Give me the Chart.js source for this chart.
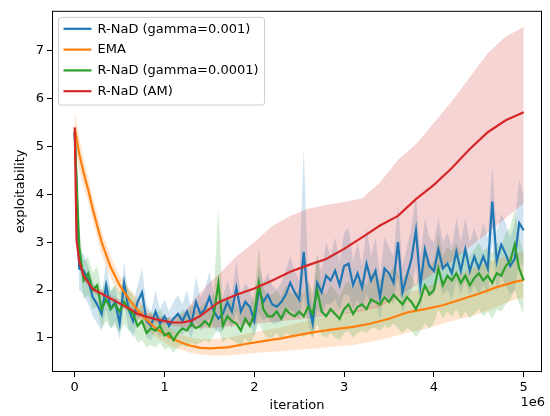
<!DOCTYPE html>
<html>
<head>
<meta charset="utf-8">
<script src="https://cdn.jsdelivr.net/npm/chart.js@4.4.1/dist/chart.umd.min.js"></script>
<style>
  html, body { margin: 0; padding: 0; background: #fff; }
  #wrap { width: 550px; height: 416px; }
</style>
</head>
<body>
<div id="wrap"><canvas id="chart" width="550" height="416"></canvas></div>
<script>
// ── Data (iterations in millions) ──────────────────────────
const xTicks = [0, 1, 2, 3, 4, 5];
const yTicks = [1, 2, 3, 4, 5, 6, 7];
const LOG_STEP = 0.05; // R-NaD runs are logged every 50k iterations

// R-NaD (gamma=0.001)
const blueMean = [
  5.3, 2.45, 2.4, 2.2, 1.85, 1.7, 1.5, 2.1, 1.6, 1.75,
  1.3, 2.15, 1.6, 1.35, 1.75, 1.95, 1.35, 1.25, 1.55, 1.3,
  1.45, 1.25, 1.4, 1.5, 1.35, 1.55, 1.3, 1.75, 1.5, 1.6,
  1.85, 1.55, 1.4, 1.5, 1.75, 1.55, 2.05, 1.55, 1.75, 1.65,
  1.35, 2.0, 1.75, 1.9, 1.7, 1.65, 1.75, 1.9, 2.15, 1.95,
  1.8, 2.8, 1.75, 1.3, 2.15, 1.95, 2.3, 2.2, 2.4, 2.1,
  2.5, 2.55, 2.1, 2.35, 2.05, 2.55, 2.2, 2.4, 1.85, 2.45,
  2.35, 2.15, 3.0, 1.95, 2.3, 2.65, 3.25, 2.1, 2.85, 2.5,
  2.4, 2.85, 2.45, 2.55, 2.35, 2.8, 2.4, 2.85, 2.4, 2.7,
  2.45, 2.7, 2.45, 3.85, 2.6, 2.95, 2.75, 2.5, 2.65, 3.4,
  3.25
];
const blueUpper = [
  5.5, 2.8, 2.75, 2.5, 2.2, 2.0, 1.85, 2.6, 1.95, 2.1,
  1.6, 2.6, 1.9, 1.7, 2.1, 2.45, 1.7, 1.55, 2.0, 1.6,
  1.8, 1.55, 1.75, 1.9, 1.7, 2.0, 1.6, 2.3, 1.85, 2.0,
  2.4, 1.9, 1.75, 1.85, 2.2, 1.9, 2.6, 1.9, 2.15, 2.0,
  1.7, 2.5, 2.15, 2.35, 2.1, 2.0, 2.15, 2.4, 2.7, 2.4,
  2.2, 5.0, 2.2, 1.7, 2.7, 2.4, 3.0, 2.7, 3.1, 2.6,
  3.2, 3.3, 2.6, 3.0, 2.5, 3.3, 2.7, 3.1, 2.3, 3.1,
  2.9, 2.7, 3.8, 2.5, 2.9, 3.3, 4.0, 2.7, 3.5, 3.1,
  3.0, 3.5, 3.0, 3.2, 2.9, 3.5, 3.0, 3.5, 3.0, 3.3,
  3.0, 3.4, 3.1, 4.6, 3.2, 3.6, 3.4, 3.1, 3.4, 4.3,
  4.0
];
const blueLower = [
  5.1, 2.0, 1.9, 1.7, 1.45, 1.3, 1.15, 1.6, 1.2, 1.35,
  0.95, 1.7, 1.2, 1.0, 1.35, 1.5, 1.0, 0.95, 1.15, 1.0,
  1.1, 0.95, 1.05, 1.15, 1.05, 1.2, 1.0, 1.35, 1.15, 1.25,
  1.4, 1.2, 1.1, 1.15, 1.35, 1.2, 1.55, 1.2, 1.35, 1.3,
  1.05, 1.5, 1.35, 1.45, 1.3, 1.3, 1.35, 1.45, 1.6, 1.5,
  1.4, 1.9, 1.3, 1.0, 1.6, 1.5, 1.7, 1.7, 1.8, 1.6,
  1.9, 1.9, 1.6, 1.8, 1.6, 1.9, 1.7, 1.8, 1.4, 1.9,
  1.8, 1.7, 2.3, 1.5, 1.8, 2.0, 2.5, 1.6, 2.2, 1.9,
  1.9, 2.2, 1.9, 2.0, 1.8, 2.2, 1.9, 2.2, 1.9, 2.1,
  1.9, 2.1, 1.9, 3.0, 2.0, 2.3, 2.1, 1.9, 2.0, 2.6,
  2.5
];

// R-NaD (gamma=0.0001)
const greenMean = [
  5.3, 2.9, 2.2, 2.35, 2.0, 2.1, 1.6, 1.8, 1.6, 1.7,
  1.55, 1.75, 1.6, 1.5, 1.25, 1.35, 1.1, 1.2, 1.15, 1.25,
  1.05, 1.1, 0.95, 1.1, 1.2, 1.15, 1.3, 1.2, 1.25, 1.35,
  1.25, 1.5, 2.15, 1.25, 1.45, 1.35, 1.3, 1.15, 1.4, 1.25,
  1.5, 2.15, 1.6, 1.45, 1.45, 1.55, 1.4, 1.6, 1.5, 1.45,
  1.55, 1.45, 1.65, 1.5, 2.0, 1.55, 1.45, 1.6, 1.5, 1.4,
  1.6, 1.7, 1.5, 1.65, 1.7, 1.6, 1.8, 1.75, 1.7, 1.85,
  1.75, 1.9, 1.8, 1.7, 1.85, 1.75, 1.6, 1.8, 2.1, 1.9,
  2.0, 2.45, 2.1, 2.3, 2.2, 2.35, 2.15, 2.3, 2.1, 2.25,
  2.35, 2.2, 2.3, 2.15, 2.35, 2.3, 2.5, 2.6, 2.95, 2.45,
  2.2
];
const greenUpper = [
  5.5, 3.3, 2.6, 2.7, 2.35, 2.5, 2.0, 2.2, 2.0, 2.1,
  1.95, 2.2, 2.0, 1.9, 1.6, 1.7, 1.45, 1.55, 1.5, 1.6,
  1.4, 1.45, 1.3, 1.45, 1.6, 1.5, 1.7, 1.55, 1.65, 1.75,
  1.6, 2.0, 3.7, 1.7, 1.9, 1.8, 1.7, 1.5, 1.85, 1.65,
  1.95, 2.9, 2.05, 1.9, 1.9, 2.0, 1.85, 2.1, 1.95, 1.9,
  2.0, 1.9, 2.2, 1.95, 2.8, 2.0, 1.9, 2.1, 2.0, 1.85,
  2.1, 2.2, 2.0, 2.2, 2.2, 2.1, 2.35, 2.3, 2.2, 2.4,
  2.3, 2.5, 2.35, 2.2, 2.4, 2.3, 2.1, 2.4, 2.8, 2.5,
  2.6, 3.2, 2.7, 2.9, 2.8, 3.0, 2.75, 2.9, 2.7, 2.85,
  3.0, 2.8, 2.9, 2.75, 3.0, 2.9, 3.2, 3.3, 3.7, 3.1,
  2.8
];
const greenLower = [
  5.1, 2.5, 1.8, 1.9, 1.6, 1.65, 1.2, 1.35, 1.2, 1.25,
  1.1, 1.3, 1.15, 1.1, 0.9, 0.95, 0.8, 0.85, 0.8, 0.9,
  0.75, 0.8, 0.7, 0.8, 0.85, 0.8, 0.9, 0.85, 0.9, 0.95,
  0.9, 1.05, 1.2, 0.9, 1.0, 0.95, 0.9, 0.8, 1.0, 0.85,
  1.05, 1.3, 1.1, 1.0, 1.0, 1.1, 0.95, 1.1, 1.05, 1.0,
  1.1, 1.0, 1.1, 1.0, 1.3, 1.05, 1.0, 1.1, 1.0, 0.95,
  1.1, 1.15, 1.0, 1.1, 1.15, 1.1, 1.2, 1.2, 1.15, 1.25,
  1.2, 1.3, 1.2, 1.1, 1.2, 1.15, 1.0, 1.15, 1.3, 1.2,
  1.3, 1.6, 1.4, 1.55, 1.45, 1.6, 1.4, 1.55, 1.4, 1.5,
  1.6, 1.45, 1.55, 1.4, 1.6, 1.55, 1.7, 1.8, 2.0, 1.7,
  1.5
];

// EMA
const orangeX = [0, 0.05, 0.1, 0.15, 0.2, 0.3, 0.4, 0.5, 0.6, 0.7, 0.8, 0.9, 1.0, 1.1, 1.2, 1.3, 1.4, 1.5,
                 1.7, 1.9, 2.1, 2.3, 2.5, 2.7, 2.9, 3.1, 3.3, 3.5, 3.7, 3.9, 4.1, 4.3, 4.5, 4.7, 4.9, 5.0];
const orangeMean = [5.4, 4.85, 4.45, 4.1, 3.7, 3.0, 2.48, 2.1, 1.82, 1.58, 1.38, 1.2, 1.08, 0.97, 0.89, 0.83, 0.79, 0.78,
                    0.8, 0.87, 0.93, 0.99, 1.06, 1.13, 1.18, 1.23, 1.3, 1.4, 1.53, 1.6, 1.68, 1.8, 1.92, 2.06, 2.17, 2.21];
const orangeUpper = [5.75, 5.2, 4.75, 4.35, 3.95, 3.25, 2.7, 2.3, 2.05, 1.82, 1.6, 1.42, 1.28, 1.15, 1.05, 1.0, 0.97, 0.97,
                     1.0, 1.08, 1.15, 1.22, 1.32, 1.4, 1.47, 1.55, 1.65, 1.8, 1.95, 2.05, 2.2, 2.35, 2.5, 2.65, 2.75, 2.8];
const orangeLower = [5.05, 4.5, 4.15, 3.85, 3.45, 2.75, 2.25, 1.9, 1.6, 1.38, 1.18, 1.02, 0.9, 0.8, 0.74, 0.68, 0.65, 0.63,
                     0.63, 0.66, 0.7, 0.72, 0.75, 0.78, 0.82, 0.85, 0.92, 1.0, 1.1, 1.18, 1.3, 1.4, 1.5, 1.65, 1.8, 1.85];

// R-NaD (AM)
const redX = [0, 0.02, 0.05, 0.1, 0.2, 0.3, 0.4, 0.5, 0.6, 0.7, 0.8, 0.9, 1.0, 1.1, 1.2, 1.3, 1.4, 1.5,
              1.6, 1.8, 2.0, 2.2, 2.4, 2.6, 2.8, 3.0, 3.2, 3.4, 3.6, 3.8, 4.0, 4.2, 4.4, 4.6, 4.8, 5.0];
const redMean = [5.4, 3.05, 2.6, 2.3, 2.02, 1.92, 1.82, 1.72, 1.62, 1.5, 1.44, 1.39, 1.35, 1.32, 1.32, 1.36, 1.46, 1.6,
                 1.74, 1.9, 2.03, 2.2, 2.38, 2.52, 2.65, 2.86, 3.1, 3.35, 3.55, 3.9, 4.2, 4.55, 4.95, 5.3, 5.55, 5.72];
const redUpper = [5.45, 3.15, 2.7, 2.4, 2.1, 2.0, 1.9, 1.8, 1.7, 1.58, 1.52, 1.46, 1.43, 1.42, 1.5, 1.72, 1.95, 2.15,
                  2.32, 2.7, 3.0, 3.34, 3.55, 3.7, 3.78, 3.84, 3.92, 4.25, 4.72, 5.05, 5.5, 5.95, 6.45, 6.95, 7.3, 7.5];
const redLower = [5.3, 2.95, 2.5, 2.2, 1.95, 1.85, 1.75, 1.65, 1.55, 1.43, 1.37, 1.32, 1.28, 1.25, 1.22, 1.2, 1.2, 1.2,
                  1.22, 1.25, 1.3, 1.33, 1.37, 1.4, 1.45, 1.5, 1.55, 1.65, 1.85, 2.1, 2.35, 2.6, 2.9, 3.2, 3.5, 3.82];

const COLORS = {
  blue: '#1f77b4', orange: '#ff7f0e', green: '#2ca02c', red: '#d62728',
};
const FONT = '13px "DejaVu Sans"';

// ── Helpers ────────────────────────────────────────────────
const logX = blueMean.map((_, i) => i * LOG_STEP);

function pts(xs, ys) {
  return ys.map((y, i) => ({ x: xs[i] * 1e6, y }));
}

function fade(hex, a) {
  const n = parseInt(hex.slice(1), 16);
  return `rgba(${n >> 16},${(n >> 8) & 255},${n & 255},${a})`;
}

function series(label, color, xs, mean, lower, upper) {
  return [
    { band: true, data: pts(xs, lower), borderWidth: 0, borderColor: 'transparent', fill: false },
    { band: true, data: pts(xs, upper), borderWidth: 0, borderColor: 'transparent',
      fill: '-1', backgroundColor: fade(color, 0.2) },
    { label, data: pts(xs, mean), borderColor: color, borderWidth: 2.2, fill: false },
  ];
}

const datasets = [
  ...series('R-NaD (gamma=0.001)', COLORS.blue, logX, blueMean, blueLower, blueUpper),
  ...series('EMA', COLORS.orange, orangeX, orangeMean, orangeLower, orangeUpper),
  ...series('R-NaD (gamma=0.0001)', COLORS.green, logX, greenMean, greenLower, greenUpper),
  ...series('R-NaD (AM)', COLORS.red, redX, redMean, redLower, redUpper),
];
// bands behind every line, later series on top
datasets.forEach((d, i) => {
  d.order = (d.band ? 200 : 100) - i;
  d.pointRadius = 0;
  d.tension = 0;
});

// ── Frame, axis labels, legend ─────────────────────────────
const mplDecor = {
  id: 'mplDecor',
  afterDraw(chart) {
    const { ctx, chartArea: ca } = chart;
    ctx.save();
    ctx.strokeStyle = '#000';
    ctx.lineWidth = 1;
    ctx.strokeRect(ca.left + 0.5, ca.top + 0.5, ca.right - ca.left - 1, ca.bottom - ca.top - 1);

    ctx.fillStyle = '#000';
    ctx.font = FONT;
    ctx.textBaseline = 'middle';
    ctx.textAlign = 'center';
    ctx.fillText('iteration', (ca.left + ca.right) / 2, ca.bottom + 34);
    ctx.textAlign = 'right';
    ctx.fillText('1e6', ca.right + 3, ca.bottom + 31);

    ctx.save();
    ctx.translate(21, (ca.top + ca.bottom) / 2);
    ctx.rotate(-Math.PI / 2);
    ctx.textAlign = 'center';
    ctx.fillText('exploitability', 0, 0);
    ctx.restore();

    // legend
    const items = chart.data.datasets.filter(d => !d.band);
    const bx = ca.left + 6.5, by = ca.top + 6.5;
    const textX = bx + 39;
    const rowH = 20.8;
    const maxW = Math.max(...items.map(d => ctx.measureText(d.label).width));
    const bw = textX - bx + maxW + 6;
    const bh = items.length * rowH + 4.5;
    const r = 3;
    ctx.beginPath();
    ctx.moveTo(bx + r, by);
    ctx.arcTo(bx + bw, by, bx + bw, by + bh, r);
    ctx.arcTo(bx + bw, by + bh, bx, by + bh, r);
    ctx.arcTo(bx, by + bh, bx, by, r);
    ctx.arcTo(bx, by, bx + bw, by, r);
    ctx.closePath();
    ctx.fillStyle = 'rgba(255,255,255,0.8)';
    ctx.fill();
    ctx.strokeStyle = '#cccccc';
    ctx.stroke();

    items.forEach((d, i) => {
      const y = by + 11.5 + i * rowH;
      ctx.strokeStyle = d.borderColor;
      ctx.lineWidth = 2.2;
      ctx.beginPath();
      ctx.moveTo(bx + 5, y);
      ctx.lineTo(bx + 33, y);
      ctx.stroke();
      ctx.fillStyle = '#000';
      ctx.textAlign = 'left';
      ctx.fillText(d.label, textX, y + 0.5);
    });
    ctx.restore();
  },
};

// ── Chart ──────────────────────────────────────────────────
Chart.defaults.font.family = '"DejaVu Sans"';
Chart.defaults.font.size = 13;
Chart.defaults.color = '#000';

const axisGrid = { drawOnChartArea: false, drawTicks: true, tickLength: 5, color: '#000', lineWidth: 1 };

new Chart(document.getElementById('chart'), {
  type: 'line',
  data: { datasets },
  plugins: [mplDecor],
  options: {
    responsive: false,
    animation: false,
    devicePixelRatio: 1,
    layout: { padding: { top: 3, right: 8, left: 0, bottom: 0 } },
    plugins: {
      legend: { display: false },
      tooltip: { enabled: false },
    },
    scales: {
      x: {
        type: 'linear',
        min: -0.253e6,
        max: 5.204e6,
        afterBuildTicks: axis => { axis.ticks = xTicks.map(v => ({ value: v * 1e6 })); },
        afterFit: scale => { scale.height = 44; },
        ticks: { callback: v => String(v / 1e6), padding: 3, maxRotation: 0, autoSkip: false, color: '#000' },
        grid: axisGrid,
        border: { display: false },
      },
      y: {
        type: 'linear',
        min: 0.285,
        max: 7.84,
        afterBuildTicks: axis => { axis.ticks = yTicks.map(v => ({ value: v })); },
        afterFit: scale => { scale.width = 52; },
        ticks: { callback: v => String(v), padding: 3, color: '#000' },
        grid: axisGrid,
        border: { display: false },
      },
    },
  },
});
</script>
</body>
</html>
